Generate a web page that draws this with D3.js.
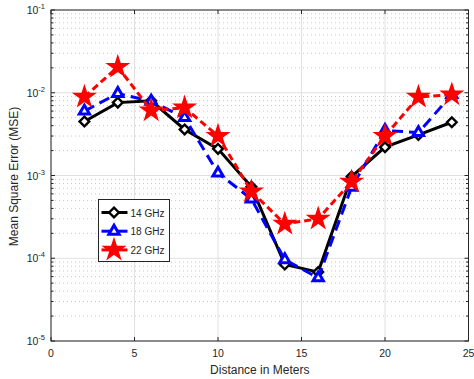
<!DOCTYPE html>
<html>
<head>
<meta charset="utf-8">
<script src="https://cdn.jsdelivr.net/npm/d3@7"></script>
<style>
  html, body { margin: 0; padding: 0; background: #fff; }
  svg { display: block; font-family: "Liberation Sans", Arial, sans-serif; }
</style>
</head>
<body>
<svg id="chart" width="474" height="379"></svg>
<script>
// Distance samples (meters)
const distances = [2, 4, 6, 8, 10, 12, 14, 16, 18, 20, 22, 24];

// MSE per carrier frequency
const mse14 = [4.5e-3, 7.6e-3, 8.0e-3, 3.6e-3, 2.1e-3, 7.3e-4, 8.4e-5, 6.8e-5, 9.7e-4, 2.2e-3, 3.1e-3, 4.4e-3];
const mse18 = [6.0e-3, 9.8e-3, 7.9e-3, 5.0e-3, 1.07e-3, 5.2e-4, 9.6e-5, 5.8e-5, 7.2e-4, 3.5e-3, 3.3e-3, 9.5e-3];
const mse22 = [8.9e-3, 2.05e-2, 6.1e-3, 6.6e-3, 3.0e-3, 6.4e-4, 2.6e-4, 3.0e-4, 8.4e-4, 3.0e-3, 8.9e-3, 9.5e-3];

const seriesNames = ["14 GHz", "18 GHz", "22 GHz"];
const xTicks = [0, 5, 10, 15, 20, 25];
const yDecades = [-5, -4, -3, -2, -1];

const svg = d3.select("#chart");
const margin = { left: 51, right: 5, top: 10, bottom: 38 };
const W = 474, H = 379;
const x = d3.scaleLinear().domain([0, 25]).range([margin.left, W - margin.right - 0.5]);
const y = d3.scaleLog().domain([1e-5, 1e-1]).range([H - margin.bottom, margin.top]);

const x0 = x.range()[0], x1 = x.range()[1], y0 = y.range()[0], y1 = y.range()[1];

// minor decade values
const minorVals = [];
yDecades.slice(0, -1).forEach(e => {
  for (let k = 2; k <= 9; k++) minorVals.push(k * Math.pow(10, e));
});

// grid
const grid = svg.append("g");
grid.selectAll("line.ymin").data(minorVals).join("line")
  .attr("x1", x0).attr("x2", x1)
  .attr("y1", d => y(d)).attr("y2", d => y(d))
  .attr("stroke", "#c8c8c8").attr("stroke-width", 1).attr("stroke-dasharray", "1,3");
grid.selectAll("line.ymaj").data(yDecades.map(e => Math.pow(10, e))).join("line")
  .attr("x1", x0).attr("x2", x1)
  .attr("y1", d => y(d)).attr("y2", d => y(d))
  .attr("stroke", "#e0e0e0").attr("stroke-width", 1);
grid.selectAll("line.xmaj").data(xTicks).join("line")
  .attr("x1", d => x(d)).attr("x2", d => x(d))
  .attr("y1", y0).attr("y2", y1)
  .attr("stroke", "#e0e0e0").attr("stroke-width", 1);

// axes box
const axisColor = "#262626";
svg.append("rect").attr("x", x0).attr("y", y1).attr("width", x1 - x0).attr("height", y0 - y1)
  .attr("fill", "none").attr("stroke", axisColor).attr("stroke-width", 1);

// x ticks (bottom and top)
const xt = svg.append("g");
xTicks.forEach(t => {
  xt.append("line").attr("x1", x(t)).attr("x2", x(t)).attr("y1", y0).attr("y2", y0 - 4).attr("stroke", axisColor);
  xt.append("line").attr("x1", x(t)).attr("x2", x(t)).attr("y1", y1).attr("y2", y1 + 4).attr("stroke", axisColor);
  xt.append("text").attr("x", x(t)).attr("y", y0 + 16).attr("text-anchor", "middle")
    .attr("font-size", 10.5).attr("fill", axisColor).text(t);
});

// y ticks (left and right)
const yt = svg.append("g");
yDecades.forEach(e => {
  const v = Math.pow(10, e);
  yt.append("line").attr("x1", x0).attr("x2", x0 + 4).attr("y1", y(v)).attr("y2", y(v)).attr("stroke", axisColor);
  yt.append("line").attr("x1", x1).attr("x2", x1 - 4).attr("y1", y(v)).attr("y2", y(v)).attr("stroke", axisColor);
  const txt = yt.append("text").attr("x", x0 - 6).attr("y", y(v) + 4).attr("text-anchor", "end")
    .attr("font-size", 10.5).attr("fill", axisColor);
  txt.append("tspan").text("10");
  txt.append("tspan").attr("dy", -5).attr("font-size", 7.5).text(String(e));
});
minorVals.forEach(v => {
  yt.append("line").attr("x1", x0).attr("x2", x0 + 2.5).attr("y1", y(v)).attr("y2", y(v)).attr("stroke", axisColor);
  yt.append("line").attr("x1", x1).attr("x2", x1 - 2.5).attr("y1", y(v)).attr("y2", y(v)).attr("stroke", axisColor);
});

// axis titles
svg.append("text").attr("x", (x0 + x1) / 2).attr("y", H - 5).attr("text-anchor", "middle")
  .attr("font-size", 12).attr("fill", axisColor).text("Distance in Meters");
svg.append("text").attr("transform", `translate(18,${(y0 + y1) / 2 + 1}) rotate(-90)`)
  .attr("text-anchor", "middle").attr("font-size", 12).attr("fill", axisColor)
  .text("Mean Square Error (MSE)");

// series definitions
const series = [
  { name: seriesNames[0], values: mse14, color: "#000000", dash: null, marker: "diamond" },
  { name: seriesNames[1], values: mse18, color: "#0000ff", dash: "11,6", marker: "triangle" },
  { name: seriesNames[2], values: mse22, color: "#ff0000", dash: "7,4", marker: "star" }
];

const markerPath = {
  diamond: d3.symbol().type(d3.symbolDiamond2).size(60),
  triangle: d3.symbol().type(d3.symbolTriangle2).size(75),
  star: d3.symbol().type(d3.symbolStar).size(130)
};

function drawMarker(g, type, color, cx, cy) {
  const p = g.append("path").attr("transform", `translate(${cx},${cy})`)
    .attr("d", markerPath[type]());
  if (type === "star") {
    p.attr("fill", color).attr("stroke", color).attr("stroke-width", 1.5).attr("stroke-linejoin", "miter");
  } else if (type === "diamond") {
    p.attr("fill", "#fff").attr("stroke", color).attr("stroke-width", 2.4);
  } else {
    p.attr("fill", "#fff").attr("stroke", color).attr("stroke-width", 3);
  }
}

const line = d3.line().x(d => x(d[0])).y(d => y(d[1]));
const plot = svg.append("g");
series.forEach(s => {
  const pts = distances.map((d, i) => [d, s.values[i]]);
  plot.append("path").datum(pts).attr("d", line).attr("fill", "none")
    .attr("stroke", s.color).attr("stroke-width", 3)
    .attr("stroke-dasharray", s.dash);
  pts.forEach(p => drawMarker(plot, s.marker, s.color, x(p[0]), y(p[1])));
});

// legend
const lg = svg.append("g");
const lx = 98.5, ly = 199.5, lw = 71, lh = 62;
lg.append("rect").attr("x", lx).attr("y", ly).attr("width", lw).attr("height", lh)
  .attr("fill", "#fff").attr("stroke", axisColor).attr("stroke-width", 1);
series.forEach((s, i) => {
  const cy = ly + 13 + i * 18.7;
  lg.append("line").attr("x1", lx + 3).attr("x2", lx + 29).attr("y1", cy).attr("y2", cy)
    .attr("stroke", s.color).attr("stroke-width", 3);
  drawMarker(lg, s.marker, s.color, lx + 15.5, cy);
  lg.append("text").attr("x", lx + 32).attr("y", cy + 4).attr("font-size", 10)
    .attr("fill", axisColor).text(s.name);
});
</script>
</body>
</html>
